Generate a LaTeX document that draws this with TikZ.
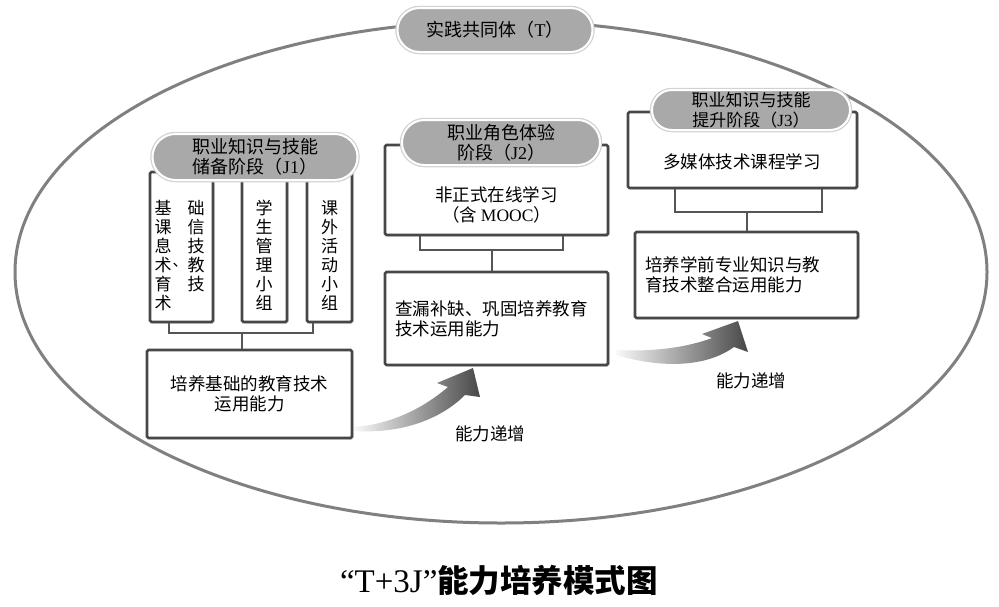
\documentclass[tikz,border=0pt]{standalone}
\usepackage{fontspec}
\setmainfont{Liberation Serif}
\newfontfamily\cjk{Noto Sans CJK SC}
\usetikzlibrary{shadows}
\definecolor{pillgray}{HTML}{A9A9A9}
\definecolor{boxline}{HTML}{474747}
\definecolor{ringgray}{HTML}{808080}
\definecolor{linkgray}{HTML}{555555}
\begin{document}
\begin{tikzpicture}[x=1pt,y=-1pt,
  pill/.style={draw=white, line width=2pt, fill=pillgray, inner sep=0pt, align=center,
    font=\cjk\fontsize{18}{19.5}\selectfont, preaction={draw=gray!35, line width=4.5pt}},
  stagebox/.style={draw=boxline, line width=2.8pt, fill=white, rounded corners=1.5pt, inner sep=0pt,
    drop shadow={shadow xshift=1.5pt, shadow yshift=-1.5pt, opacity=0.3}},
  txt/.style={font=\cjk\fontsize{17.5}{20}\selectfont, inner sep=0pt},
  coltxt/.style={font=\cjk\fontsize{17}{19}\selectfont, inner sep=0pt, align=center},
  link/.style={draw=linkgray, line width=2.8pt},
  growarrow/.style={left color=gray!5, right color=black!72}
]
\useasboundingbox (0,0) rectangle (999,606);
\fill[white] (0,0) rectangle (999,606);

% community ring
\draw[ringgray, line width=3pt] (501,272) ellipse [x radius=486pt, y radius=251pt];
\node[pill, minimum width=195pt, minimum height=44pt, rounded corners=22pt] (T) at (495,30) {实践共同体（{\rmfamily T}）};

% ---------- J1 ----------
\node[stagebox, minimum width=63pt, minimum height=150pt] (b1) at (181.5,247) {};
\node[stagebox, minimum width=45pt, minimum height=150pt] (b2) at (264.5,247) {};
\node[stagebox, minimum width=45pt, minimum height=150pt] (b3) at (329.5,247) {};
\node[coltxt] (b1l) at (163,255.5) {基\\课\\息\\术\\育\\术};
\node[coltxt] (b1r) at (196,246) {础\\信\\技\\教\\技};
\node[coltxt, font=\cjk\fontsize{15}{15}\selectfont] (b1d) at (180,265) {、};
\node[coltxt] (b2t) at (264,255.5) {学\\生\\管\\理\\小\\组};
\node[coltxt] (b3t) at (329.5,255.5) {课\\外\\活\\动\\小\\组};
\node[pill, minimum width=205pt, minimum height=46pt, rounded corners=23pt] (J1) at (255,157)
  {职业知识与技能\\储备阶段（{\rmfamily J1}）};
\node[stagebox, minimum width=205pt, minimum height=88pt, txt, align=center] (c1) at (249.5,394)
  {培养基础的教育技术\\运用能力};
\coordinate (k1L) at (169,333);
\coordinate (k1R) at (313,333);
\coordinate (k1M) at (242,333);
\draw[link] (k1L |- b1.south) -- (k1L) -- (k1R) -- (k1R |- b3.south);
\draw[link] (k1M) -- (k1M |- c1.north);

% ---------- J2 ----------
\node[stagebox, minimum width=223pt, minimum height=90pt] (a2) at (496.5,190) {};
\node[txt, align=center] (a2t) at (496.5,205) {非正式在线学习\\（含 {\rmfamily MOOC}）};
\node[pill, minimum width=198pt, minimum height=45pt, rounded corners=22.5pt] (J2) at (501,142.5)
  {职业角色体验\\阶段（{\rmfamily J2}）};
\node[stagebox, minimum width=223pt, minimum height=93pt, txt, align=left, text width=203pt] (c2) at (496.5,318.5)
  {查漏补缺、巩固培养教育\\技术运用能力};
\coordinate (k2L) at (420,250);
\coordinate (k2R) at (563,250);
\coordinate (k2M) at (492,250);
\draw[link] (k2L |- a2.south) -- (k2L) -- (k2R) -- (k2R |- a2.south);
\draw[link] (k2M) -- (k2M |- c2.north);

% ---------- J3 ----------
\node[stagebox, minimum width=229pt, minimum height=76pt] (a3) at (742.5,150) {};
\node[txt] (a3t) at (742,162) {多媒体技术课程学习};
\node[pill, minimum width=198pt, minimum height=40pt, rounded corners=20pt, font=\cjk\fontsize{17}{20}\selectfont] (J3) at (751,110)
  {职业知识与技能\\提升阶段（{\rmfamily J3}）};
\node[stagebox, minimum width=223pt, minimum height=86pt, txt, align=left, text width=203pt] (c3) at (746.5,275)
  {培养学前专业知识与教\\育技术整合运用能力};
\coordinate (k3L) at (675,212);
\coordinate (k3R) at (822,212);
\coordinate (k3M) at (747,212);
\draw[link] (k3L |- a3.south) -- (k3L) -- (k3R) -- (k3R |- a3.south);
\draw[link] (k3M) -- (k3M |- c3.north);

% ---------- growth arrows ----------
\shade[growarrow] (354,427) .. controls (395,424) and (427,405) .. (448,387) -- (437,383) -- (473,368)
  -- (480,397) -- (465,395) .. controls (440,420) and (400,434) .. (354,431) -- cycle;
\node[txt] (g1) at (490,434) {能力递增};
\shade[growarrow] (616,350) .. controls (655,352) and (688,347) .. (712,338) -- (702,334) -- (738,321)
  -- (748,352) -- (734,347) .. controls (705,368) and (660,368) .. (616,355) -- cycle;
\node[txt] (g2) at (751,381) {能力递增};

% caption
\node[inner sep=0pt] (cap) at (499,580) {{\fontsize{33}{34}\selectfont “T+3J”}{\cjk\bfseries\fontsize{31.5}{34}\selectfont 能力培养模式图}};
\end{tikzpicture}
\end{document}
